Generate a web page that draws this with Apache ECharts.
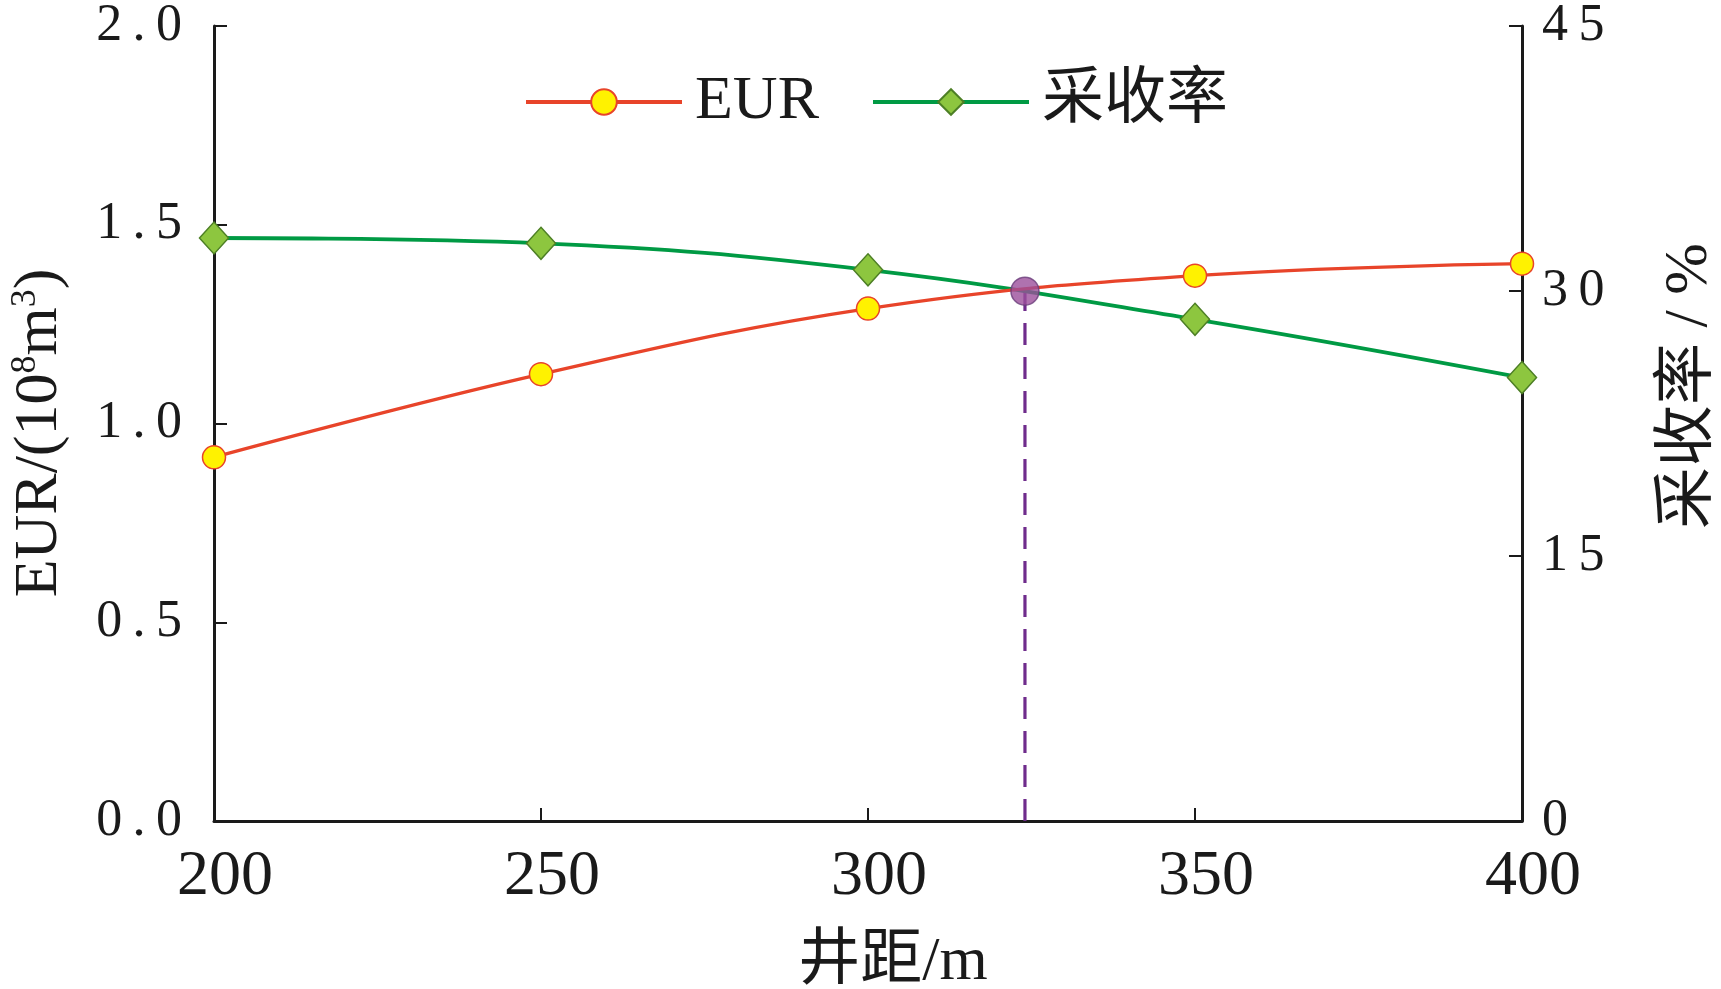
<!DOCTYPE html>
<html>
<head>
<meta charset="utf-8">
<script src="https://cdn.jsdelivr.net/npm/echarts@6/dist/echarts.min.js"></script>
<style>
html,body{margin:0;padding:0;background:#fff;}
#chart{width:1721px;height:989px;}
</style>
</head>
<body>
<div id="chart"></div>
<script>
const spacing = [200, 250, 300, 350, 400];
const eur = [0.915, 1.124, 1.289, 1.372, 1.402];
const recovery = [33.0, 32.7, 31.2, 28.4, 25.1];
const optimumX = 324;
const optimumEur = 1.333;
const xTicks = [200, 250, 300, 350, 400];
const leftTicks = [0, 0.5, 1.0, 1.5, 2.0];
const rightTicks = [0, 15, 30, 45];

const FONT = "'Liberation Serif', 'Noto Sans CJK SC', serif";
const spaced = s => String(s).split('').join('\u2009');

const chart = echarts.init(document.getElementById('chart'), null, {renderer: 'canvas'});

const axisLine = {show: true, lineStyle: {color: '#1a1a1a', width: 3}};
const axisTick = {show: true, inside: true, length: 13, lineStyle: {color: '#1a1a1a', width: 2}};

chart.setOption({
  backgroundColor: '#fff',
  animation: false,
  grid: {left: 214, right: 199, top: 24, bottom: 168, containLabel: false},
  legend: {
    data: ['EUR', '采收率'],
    left: 519, top: 66,
    itemWidth: 156, itemHeight: 32, itemGap: 52, itemTextGap: 26,
    lineStyle: {width: 4},
    textStyle: {fontFamily: FONT, fontSize: 62, color: '#1a1a1a', padding: [0, 0, 0, 8]}
  },
  xAxis: {
    type: 'value', min: xTicks[0], max: xTicks[xTicks.length - 1], interval: 50,
    axisLine: axisLine, axisTick: axisTick, splitLine: {show: false},
    axisLabel: {margin: 24, padding: [0, 0, 0, 22], fontFamily: FONT, fontSize: 64, color: '#1a1a1a'}
  },
  yAxis: [{
    type: 'value', min: leftTicks[0], max: leftTicks[leftTicks.length - 1], interval: 0.5,
    position: 'left',
    axisLine: axisLine, axisTick: axisTick, splitLine: {show: false},
    axisLabel: {margin: 32, fontFamily: FONT, fontSize: 52, color: '#1a1a1a',
      formatter: v => spaced(v.toFixed(1))}
  }, {
    type: 'value', min: rightTicks[0], max: rightTicks[rightTicks.length - 1], interval: 15,
    position: 'right',
    axisLine: axisLine, axisTick: axisTick, splitLine: {show: false},
    axisLabel: {margin: 20, fontFamily: FONT, fontSize: 52, color: '#1a1a1a',
      formatter: v => spaced(v)}
  }],
  graphic: [{
    type: 'text', x: 40, y: 433, rotation: Math.PI / 2,
    style: {
      text: '{a|EUR/(10}{s|8}{a|m}{s|3}{a|)}',
      align: 'center', verticalAlign: 'middle',
      rich: {
        a: {fontFamily: FONT, fontSize: 62, fill: '#1a1a1a', lineHeight: 64},
        s: {fontFamily: FONT, fontSize: 36, fill: '#1a1a1a', verticalAlign: 'top', lineHeight: 64, padding: [0, 0, 22, 0]}
      }
    }
  }, {
    type: 'text', x: 1690, y: 386, rotation: Math.PI / 2,
    style: {text: '采收率 / %', align: 'center', verticalAlign: 'middle',
      fontFamily: FONT, fontSize: 62, fill: '#1a1a1a'}
  }, {
    type: 'text', x: 893, y: 963,
    style: {text: '井距/m', align: 'center', verticalAlign: 'middle',
      fontFamily: FONT, fontSize: 62, fill: '#1a1a1a'}
  }],
  series: [{
    name: '采收率', type: 'line', yAxisIndex: 1, smooth: 0.4,
    data: spacing.map((x, i) => [x, recovery[i]]),
    symbol: 'diamond', symbolSize: [29, 32],
    lineStyle: {color: '#009a44', width: 3.8},
    itemStyle: {color: '#8dc63f', borderColor: '#4d7f25', borderWidth: 1.5},
    z: 3
  }, {
    name: 'EUR', type: 'line', yAxisIndex: 0, smooth: 0.4,
    data: spacing.map((x, i) => [x, eur[i]]),
    symbol: 'circle', symbolSize: 23,
    lineStyle: {color: '#e8442a', width: 3.3},
    itemStyle: {color: '#fff200', borderColor: '#e8442a', borderWidth: 1.5},
    z: 4
  }, {
    name: 'optimum-line', type: 'line', yAxisIndex: 0, symbol: 'none',
    data: [[optimumX, 0], [optimumX, optimumEur]],
    lineStyle: {color: '#6f2c8c', width: 3.2, type: [22, 12]},
    z: 2
  }, {
    name: 'optimum', type: 'scatter', yAxisIndex: 0,
    data: [[optimumX, optimumEur]],
    symbol: 'circle', symbolSize: 28,
    itemStyle: {color: '#9b4f9b', borderColor: '#6a3d7a', borderWidth: 1.5},
    z: 5
  }]
});
</script>
</body>
</html>
